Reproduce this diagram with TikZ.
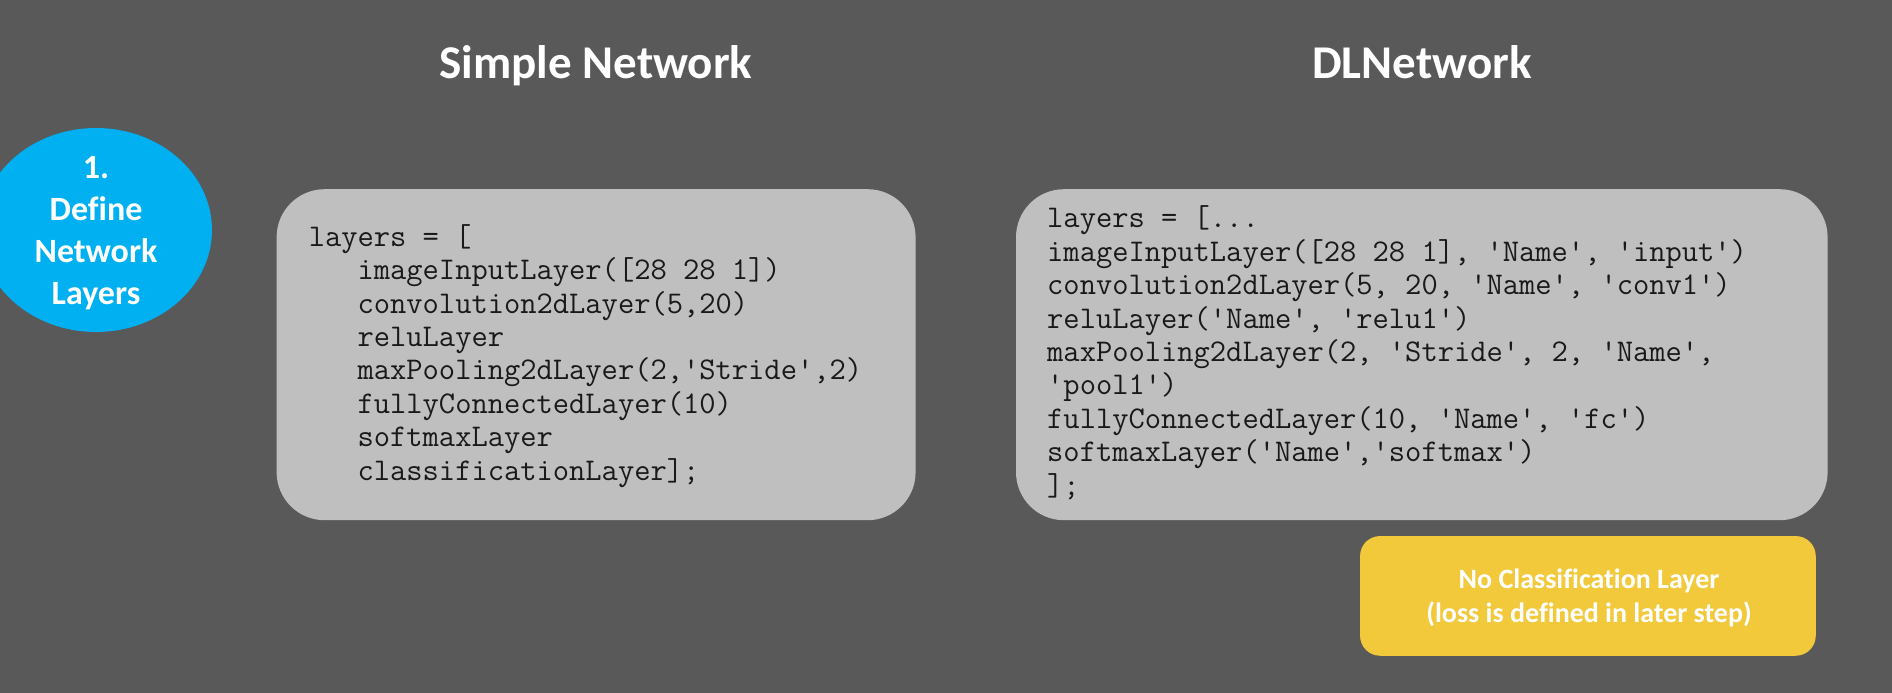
\documentclass[tikz,border=0pt]{standalone}
\usepackage{fontspec}
\setmainfont{Carlito}[Ligatures={NoCommon}]
\usetikzlibrary{shapes.geometric}
\definecolor{bgcol}{HTML}{595959}
\definecolor{boxcol}{HTML}{BFBFBF}
\definecolor{stepcol}{HTML}{00B0F0}
\definecolor{notecol}{HTML}{F1C93B}
\tikzset{
  titletext/.style={anchor=base, inner sep=0, text=white, font=\bfseries\fontsize{47}{56}\selectfont},
  codebox/.style={fill=boxcol, rounded corners=48pt, inner sep=0, minimum width=#1, minimum height=331pt},
  codetext/.style={anchor=base west, align=left, inner sep=0, text=black!90, font=\ttfamily\fontsize{31.6}{33.4}\selectfont},
  whitelabel/.style={align=center, inner sep=0, text=white}
}
\begin{document}
\begin{tikzpicture}[x=1pt,y=-1pt]
\fill[bgcol] (0,0) rectangle (1892,693);
\useasboundingbox (0,0) rectangle (1892,693);
\begin{scope}
\clip (0,0) rectangle (1892,693);
\node[ellipse, fill=stepcol, inner sep=0, minimum width=232pt, minimum height=204pt] (step) at (96,230) {};
\end{scope}
\node[whitelabel, font=\bfseries\fontsize{34}{42}\selectfont] (steptext) at (96,233) {1.\\Define\\Network\\Layers};

\node[titletext] (simpletitle) at (596,78) {Simple Network};
\node[titletext] (dltitle) at (1422,78) {DLNetwork};

\node[codebox=639pt] (simplebox) at (596.1,354.7) {};
\node[codebox=811.6pt] (dlbox) at (1421.8,354.7) {};

\node[codetext] (simplecode) at (308.6,480) {layers = [\\
\phantom{xxx}imageInputLayer([28 28 1])\\
\phantom{xxx}convolution2dLayer(5,20)\\
\phantom{xxx}reluLayer\\
\phantom{xxx}maxPooling2dLayer(2,'Stride',2)\\
\phantom{xxx}fullyConnectedLayer(10)\\
\phantom{xxx}softmaxLayer\\
\phantom{xxx}classificationLayer];};

\node[codetext] (dlcode) at (1047,495) {layers = [...\\
imageInputLayer([28 28 1], 'Name', 'input')\\
convolution2dLayer(5, 20, 'Name', 'conv1')\\
reluLayer('Name', 'relu1')\\
maxPooling2dLayer(2, 'Stride', 2, 'Name',\\
'pool1')\\
fullyConnectedLayer(10, 'Name', 'fc')\\
softmaxLayer('Name','softmax')\\
];};

\node[fill=notecol, rounded corners=20pt, inner sep=0, minimum width=455.7pt, minimum height=119.7pt] (note) at (1587.9,595.9) {};
\node[whitelabel, font=\bfseries\fontsize{28}{34}\selectfont] (notetext) at (1589,598) {No Classification Layer\\(loss is defined in later step)};
\end{tikzpicture}
\end{document}
